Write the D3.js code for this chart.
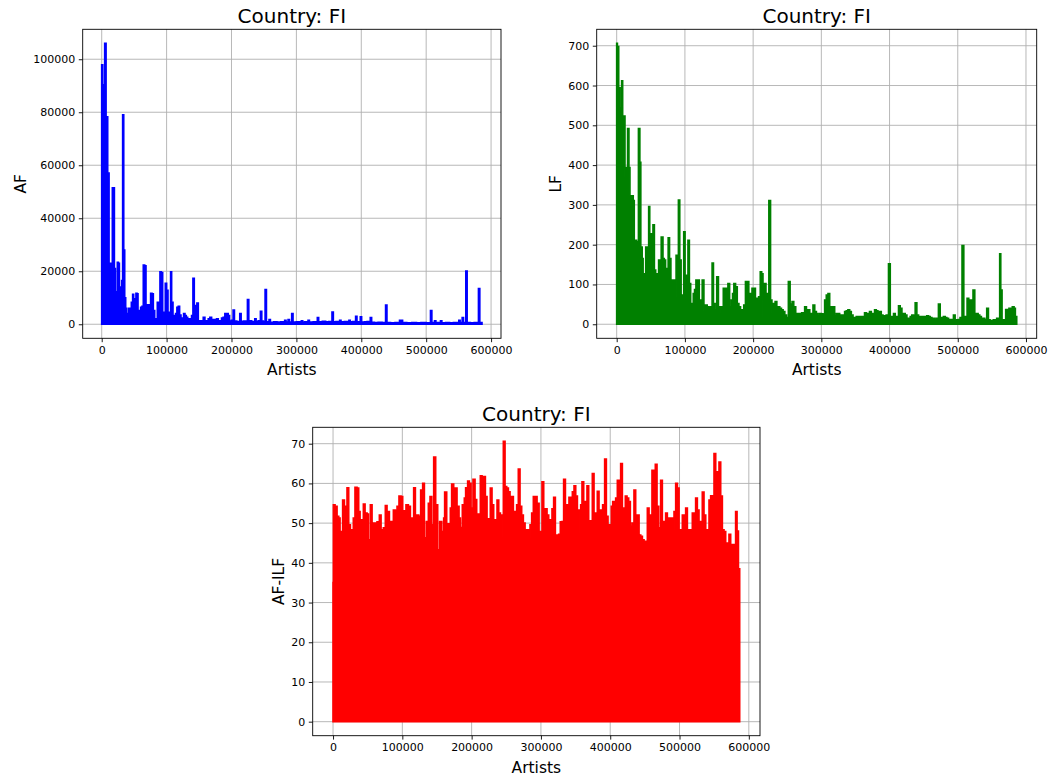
<!DOCTYPE html>
<html>
<head>
<meta charset="utf-8">
<script src="https://cdn.jsdelivr.net/npm/d3@7"></script>
<style>
	body { margin: 0; background: #fff; }
	svg { display: block; font-family: "DejaVu Sans", sans-serif; }
</style>
</head>
<body>
<div id="figure"></div>
<script>
// values, [artist index, value]
var countryTitle = 'Country: FI';
var xLabel = 'Artists';
var xTicks = [0, 100000, 200000, 300000, 400000, 500000, 600000];
var afTicks = [0, 20000, 40000, 60000, 80000, 100000];
var lfTicks = [0, 100, 200, 300, 400, 500, 600, 700];
var ilfTicks = [0, 10, 20, 30, 40, 50, 60, 70];

var afPoints = [[0, 97850], [1500, 90300], [4600, 106000], [6700, 78300], [7700, 78300], [9200, 57000],
	[11300, 23000], [12800, 23000], [14900, 21000], [16400, 51500], [18000, 51500], [19500, 21000],
	[21000, 12200], [22600, 12200], [24100, 23400], [25700, 23000], [27200, 9000], [29200, 14000],
	[30800, 16500], [32300, 79000], [33900, 28000], [35400, 10000], [36900, 6000], [38500, 4000],
	[40000, 4000], [41600, 6000], [43600, 6000], [45700, 8300], [47700, 11300], [49200, 8300],
	[50800, 9600], [52800, 11700], [54400, 11500], [55900, 5200], [58000, 3500], [60000, 6400],
	[62100, 6800], [64100, 22300], [66200, 22000], [68200, 7300], [70300, 6400], [71800, 7300],
	[73400, 5200], [75400, 11700], [77500, 11500], [79500, 5200], [81600, 2000], [83600, 1800],
	[85700, 8300], [87700, 8300], [89800, 19800], [91800, 19500], [93900, 4500], [95900, 2000],
	[98000, 15400], [100000, 12800], [102100, 4000], [104100, 4500], [106200, 19800], [107700, 8300],
	[109800, 3300], [111800, 2000], [113900, 4000], [115900, 6400], [118000, 6800], [120000, 3500],
	[122100, 2000], [124100, 2300], [126200, 4000], [128300, 3300], [130300, 2600], [132400, 1300],
	[134400, 2000], [136500, 1300], [138500, 3300], [140600, 17300], [142600, 7000], [144700, 6000],
	[146700, 8000], [148800, 1300], [151300, 1000], [153900, 1300], [156500, 2600], [159000, 1300],
	[161600, 1000], [164200, 2000], [166700, 2600], [169300, 1800], [171900, 1800], [174400, 1300],
	[177000, 2000], [179600, 1300], [182100, 1300], [184700, 2300], [187200, 2600], [189800, 4000],
	[192400, 4000], [194900, 3300], [197000, 1200], [200000, 1500], [202500, 5300], [204500, 1200],
	[208000, 1000], [212800, 4000], [214800, 1100], [219000, 1200], [224600, 9300], [226600, 1300],
	[231000, 1000], [235900, 2000], [237900, 900], [241000, 1300], [244600, 4900], [246600, 1200],
	[249000, 900], [251800, 13100], [253800, 900], [257900, 1800], [259900, 700], [265000, 900],
	[270000, 800], [276000, 900], [282000, 1500], [284000, 800], [287200, 1800], [289200, 800],
	[292800, 4000], [294800, 800], [300000, 900], [307700, 1300], [309700, 800], [313000, 900],
	[318000, 1500], [320000, 800], [326000, 900], [332300, 2500], [334300, 900], [340000, 1100],
	[345000, 900], [350000, 1000], [354900, 4600], [356900, 900], [361000, 1000], [366700, 1500],
	[368700, 900], [374000, 1000], [381000, 1500], [383000, 900], [387000, 1000], [391300, 3000],
	[393300, 900], [398500, 2800], [400500, 800], [405000, 900], [409000, 1000], [413900, 2500],
	[415900, 700], [420000, 600], [426000, 700], [432000, 600], [437500, 7200], [439500, 600],
	[445000, 500], [452000, 600], [459000, 1500], [461600, 1500], [463600, 600], [470000, 500],
	[478000, 600], [485000, 500], [492000, 600], [500000, 500], [506700, 5200], [508700, 600],
	[512900, 1300], [514900, 600], [522100, 1300], [524100, 500], [530000, 600], [536000, 500],
	[542000, 600], [550300, 1500], [552300, 600], [555500, 2500], [557500, 600], [561100, 20100],
	[563100, 600], [568000, 500], [574000, 600], [580600, 13500], [582600, 600], [586000, 0]];

var lfPoints = [[0, 706], [1000, 698], [2900, 594], [4800, 544], [7300, 612], [8700, 523], [10600, 523],
	[12100, 369], [13600, 394], [16000, 492], [17900, 394], [19400, 323], [21800, 323], [24200, 311],
	[25700, 211], [27600, 211], [29000, 207], [31900, 492], [33900, 407], [35300, 194], [37300, 165],
	[38700, 127], [40700, 123], [42600, 194], [44500, 186], [46900, 296], [48400, 227], [50800, 186],
	[53200, 250], [55200, 136], [57100, 69], [59500, 127], [61500, 161], [63400, 115], [65300, 219],
	[67800, 165], [69700, 161], [71600, 140], [73600, 136], [75500, 217], [77400, 165], [79400, 111],
	[81300, 111], [83200, 111], [85200, 69], [87100, 173], [89100, 173], [90500, 312], [92400, 161],
	[94400, 69], [96300, 73], [98300, 232], [100200, 123], [102600, 119], [104500, 211], [106500, 102],
	[108400, 52], [110400, 44], [112300, 77], [114200, 87], [116200, 111], [118600, 111], [121000, 44],
	[123400, 61], [125400, 111], [127800, 32], [130200, 48], [132600, 44], [135000, 40], [137500, 44],
	[139900, 154], [141800, 52], [144200, 36], [146700, 119], [149100, 27], [151500, 44], [153900, 44],
	[156300, 90], [158800, 90], [161200, 69], [163100, 102], [165500, 44], [168000, 61], [169900, 77],
	[171800, 102], [174200, 94], [176700, 52], [179100, 44], [181500, 36], [183900, 27], [186300, 48],
	[188800, 107], [191200, 107], [193600, 52], [196000, 77], [198400, 90], [200900, 90], [203300, 52],
	[205700, 65], [208100, 69], [210500, 132], [212500, 127], [214400, 19], [216300, 102], [218800, 77],
	[221200, 57], [223100, 311], [225500, 61], [227500, 27], [229900, 52], [232300, 57], [234700, 44],
	[239000, 40], [241500, 36], [243900, 32], [246400, 23], [248800, 17], [251700, 107], [254200, 51],
	[257100, 57], [259500, 44], [262400, 27], [265400, 27], [268300, 27], [271200, 29], [273200, 19],
	[275600, 44], [278100, 23], [280500, 36], [283000, 27], [285900, 23], [287800, 48], [290300, 32],
	[292700, 27], [295100, 21], [297600, 27], [300000, 26], [302400, 23], [304900, 61], [307300, 73],
	[309800, 77], [312200, 36], [314600, 44], [317100, 44], [319500, 19], [322000, 27], [324400, 27],
	[326800, 23], [329300, 19], [331700, 23], [334200, 32], [336600, 34], [339000, 36], [341500, 32],
	[343900, 23], [346400, 17], [348800, 15], [351200, 19], [353700, 17], [356100, 19], [358500, 19],
	[361000, 19], [363400, 29], [365900, 27], [368300, 27], [370700, 32], [373200, 21], [375600, 27],
	[378100, 36], [380500, 34], [382900, 27], [385400, 32], [387800, 23], [390300, 19], [392700, 21],
	[395100, 23], [398500, 152], [401000, 19], [403400, 17], [405900, 27], [408300, 19], [410700, 19],
	[413200, 46], [415600, 40], [418100, 19], [420500, 27], [422900, 23], [425400, 15], [427800, 12],
	[430300, 19], [432700, 23], [435100, 19], [437600, 54], [440000, 23], [442500, 19], [444900, 17],
	[447300, 19], [449800, 15], [452200, 19], [454600, 21], [457100, 19], [459500, 17], [462000, 12],
	[464400, 15], [466800, 11], [469300, 15], [471700, 51], [474200, 15], [476600, 17], [479000, 19],
	[481500, 17], [483900, 15], [486400, 11], [488800, 12], [491200, 11], [493700, 23], [496100, 11],
	[498600, 11], [501000, 12], [503400, 17], [506300, 198], [508800, 15], [511200, 19], [513700, 65],
	[516100, 32], [518500, 61], [520500, 19], [522400, 86], [524900, 19], [527300, 27], [529800, 23],
	[532200, 19], [534600, 12], [537100, 15], [539500, 12], [542500, 40], [544900, 11], [547300, 9],
	[549800, 9], [552200, 11], [554600, 11], [557100, 15], [559000, 12], [561500, 177], [563000, 86],
	[564900, 11], [567300, 11], [570300, 37], [572700, 19], [575100, 40], [577600, 23], [580000, 44],
	[582500, 40], [584400, 19], [586400, 2]];

var ilfPoints = [[0, 35], [500, 54.6], [2900, 54.2], [5800, 51.7], [8200, 51.3], [10100, 47.9], [11500, 46.7],
	[13900, 55.8], [16400, 54.2], [17800, 47], [20200, 58.9], [22600, 49.6], [25000, 48.3], [26900, 46.2],
	[29300, 51.3], [31700, 59], [34600, 58.8], [37000, 52.9], [39000, 47], [41400, 50.8], [43800, 54.8],
	[46200, 52.5], [49100, 52.3], [51000, 45.8], [53900, 54.6], [56300, 50], [58700, 43.8], [61100, 50],
	[63500, 50.3], [66900, 52], [69300, 48.3], [72600, 48.8], [75500, 54.4], [77900, 52.9], [81300, 50.4],
	[84700, 47.9], [87100, 53.3], [89900, 53.1], [92400, 54.2], [95200, 56.8], [98100, 56.7], [100500, 53.1],
	[102900, 47.9], [105300, 54.6], [108700, 54.2], [111600, 47.9], [114000, 51.3], [116400, 58.9],
	[118800, 51.3], [121200, 52], [123600, 51.7], [126500, 58.3], [129400, 60], [131800, 46.3],
	[134700, 50.4], [137600, 55], [140000, 56.7], [142400, 49.6], [145300, 66.6], [148100, 54.6],
	[151000, 43.3], [153900, 50.4], [156800, 47.9], [159700, 51.3], [161100, 57.8], [164000, 46.3],
	[166400, 49.8], [169300, 53.8], [171200, 59.8], [174100, 54.2], [176500, 58.8], [178900, 54.2],
	[181800, 51.3], [183700, 48.9], [186600, 54.6], [189500, 56.3], [191400, 58.9], [194300, 60.6],
	[196700, 60], [199100, 53.8], [202000, 61], [204900, 55.9], [207300, 51.3], [209700, 52.3],
	[212600, 61.9], [215000, 60], [217400, 61.7], [219800, 56.7], [222200, 47.5], [224600, 51.1],
	[227000, 58.8], [229400, 54.6], [231800, 50.6], [234200, 50.8], [236700, 55.8], [239100, 52.5],
	[241500, 46.3], [243900, 52], [245800, 70.6], [248200, 59.2], [250600, 58.8], [253000, 57.9],
	[255400, 56.7], [257800, 56.7], [260200, 51.3], [262600, 52.9], [265000, 54.6], [267400, 63.6],
	[269800, 54.2], [272200, 52], [274600, 50], [277100, 47.9], [279500, 48.3], [281900, 46.3],
	[284300, 49.6], [286700, 52.5], [289100, 56.7], [291500, 56.7], [294400, 55], [297300, 42.9],
	[299700, 47.9], [301600, 60.4], [304000, 42.5], [306400, 53.6], [308800, 52], [311200, 50.8],
	[313600, 47], [316000, 53.6], [318400, 56.5], [320800, 43.8], [323200, 47], [325600, 47.2],
	[328000, 50.3], [330400, 50.4], [332800, 61], [335300, 54.6], [338100, 54.6], [340500, 56.5],
	[343000, 54.6], [345400, 57.9], [347800, 59.4], [350200, 56.8], [352600, 47.5], [355000, 53.3],
	[357400, 54.6], [359300, 60.4], [361700, 51.7], [364100, 55.4], [366500, 59.4], [368900, 50.6],
	[371800, 50], [374200, 62.5], [376600, 52.5], [379000, 48.8], [381400, 58], [383800, 49.6],
	[386200, 53.3], [389100, 54.6], [392000, 66.1], [394400, 51.7], [396800, 49.6], [399200, 47.9],
	[401600, 54.2], [403600, 55.4], [405500, 51.7], [407900, 56.3], [410300, 60.8], [412700, 59.6],
	[415100, 65], [417500, 50.8], [419900, 53.8], [421800, 56.8], [424200, 56.3], [426600, 55.4],
	[429000, 49.2], [431500, 50], [434300, 58.3], [436700, 52], [439100, 52], [441600, 47], [444000, 46.7],
	[446400, 45.8], [448800, 45], [451200, 45.4], [453600, 53.8], [456000, 51.7], [458400, 52],
	[460300, 63.3], [462700, 52], [465100, 64.8], [467500, 54.2], [469900, 48.8], [472800, 60.8],
	[475200, 50.4], [477600, 46.3], [480000, 52.5], [482400, 51.3], [484800, 49.6], [487200, 51.3],
	[489700, 48.3], [492100, 52.9], [494500, 60], [496900, 58.8], [499300, 43.3], [501700, 48.3],
	[504100, 52], [506500, 44.6], [508900, 53.8], [511300, 41.3], [513700, 48.3], [516100, 46.3],
	[518500, 52.5], [520900, 52], [523300, 56.3], [525700, 53.3], [528100, 50.4], [530500, 47],
	[532900, 57.8], [535300, 52], [537800, 47.9], [540200, 48.3], [542600, 55.8], [545000, 56.9],
	[547400, 48.8], [549800, 67.5], [552200, 62.9], [554600, 55.4], [557000, 65.4], [559400, 56.8],
	[561800, 48.3], [564200, 47.9], [566600, 45], [569000, 42.9], [571400, 47.2], [573800, 44.6],
	[576200, 44.2], [578600, 44.6], [581000, 52.9], [583000, 48], [585000, 38.5], [586800, 34]];

var lineWidth = 1.67;

class Panel {
	constructor(svg, box, points, color, yTicks, yLabel){
		this.svg = svg;
		this.box = box;
		this.points = points;
		this.color = color;
		this.yTicks = yTicks;
		this.yLabel = yLabel;
		this.setScales();
		this.draw();
	}

	setScales(){
		//matplotlib style 5% margins on both axes
		var b = this.box;
		var xExt = d3.extent(this.points, d => d[0]);
		var yMax = d3.max(this.points, d => d[1]);
		var padX = .05*(xExt[1] - xExt[0]);
		var padY = .05*yMax;
		this.x = d3.scaleLinear()
			.domain([xExt[0] - padX, xExt[1] + padX])
			.range([b.left, b.left + b.width]);
		this.y = d3.scaleLinear()
			.domain([-padY, yMax + padY])
			.range([b.top + b.height, b.top]);
	}

	draw(){
		var self = this;
		var b = this.box;
		var g = this.svg.append('g');
		var clipId = 'clip' + Math.round(b.left);
		g.append('clipPath').attr('id', clipId)
			.append('rect')
			.attr('x', b.left).attr('y', b.top)
			.attr('width', b.width).attr('height', b.height);

		//grid below the data
		g.selectAll('line.vgrid').data(xTicks).enter().append('line')
			.attr('class', 'vgrid')
			.attr('x1', d => self.x(d)).attr('x2', d => self.x(d))
			.attr('y1', b.top).attr('y2', b.top + b.height)
			.attr('stroke', '#b0b0b0').attr('stroke-width', .9);
		g.selectAll('line.hgrid').data(this.yTicks).enter().append('line')
			.attr('class', 'hgrid')
			.attr('y1', d => self.y(d)).attr('y2', d => self.y(d))
			.attr('x1', b.left).attr('x2', b.left + b.width)
			.attr('stroke', '#b0b0b0').attr('stroke-width', .9);

		var area = d3.area()
			.curve(d3.curveStepAfter)
			.x(d => self.x(d[0]))
			.y0(self.y(0))
			.y1(d => self.y(d[1]));
		g.append('path')
			.datum(this.points)
			.attr('clip-path', 'url(#' + clipId + ')')
			.attr('d', area)
			.attr('fill', this.color)
			.attr('stroke', this.color)
			.attr('stroke-width', lineWidth)
			.attr('stroke-linejoin', 'miter');

		//axes
		var xAxis = g.append('g')
			.attr('transform', 'translate(0,' + (b.top + b.height) + ')')
			.call(d3.axisBottom(this.x).tickValues(xTicks).tickFormat(d3.format('d'))
				.tickSizeOuter(0).tickSize(3.9).tickPadding(3.6));
		var yAxis = g.append('g')
			.attr('transform', 'translate(' + b.left + ',0)')
			.call(d3.axisLeft(this.y).tickValues(this.yTicks).tickFormat(d3.format('d'))
				.tickSizeOuter(0).tickSize(3.9).tickPadding(3.6));
		[xAxis, yAxis].forEach(function(a){
			a.select('.domain').remove();
			a.attr('font-family', null).attr('font-size', null);
			a.selectAll('line').attr('stroke', '#000').attr('stroke-width', .9);
			a.selectAll('text').attr('fill', '#000').style('font-size', '11px');
		});

		g.append('rect')
			.attr('x', b.left).attr('y', b.top)
			.attr('width', b.width).attr('height', b.height)
			.attr('fill', 'none').attr('stroke', '#000').attr('stroke-width', .9);

		g.append('text')
			.attr('x', b.left + b.width/2).attr('y', b.top - 6)
			.attr('text-anchor', 'middle')
			.style('font-size', '20px')
			.text(countryTitle);
		g.append('text')
			.attr('x', b.left + b.width/2).attr('y', b.top + b.height + 37)
			.attr('text-anchor', 'middle')
			.style('font-size', '15.5px')
			.text(xLabel);

		var tickLeft = d3.min(yAxis.selectAll('text').nodes(), n => n.getBBox().x) + b.left;
		g.append('text')
			.attr('transform', 'translate(' + (tickLeft - 7.5) + ',' + (b.top + b.height/2) + ') rotate(-90)')
			.attr('text-anchor', 'middle')
			.style('font-size', '15.5px')
			.text(this.yLabel);
	}
}

var svg = d3.select('#figure').append('svg')
	.attr('width', 1052)
	.attr('height', 777);

new Panel(svg, {left: 82.7, top: 29.3, width: 418.3, height: 309}, afPoints, '#0000ff', afTicks, 'AF');
new Panel(svg, {left: 596.7, top: 29.3, width: 440, height: 309}, lfPoints, '#008000', lfTicks, 'LF');
new Panel(svg, {left: 312.7, top: 427.3, width: 447.3, height: 308.4}, ilfPoints, '#ff0000', ilfTicks, 'AF-ILF');
</script>
</body>
</html>
